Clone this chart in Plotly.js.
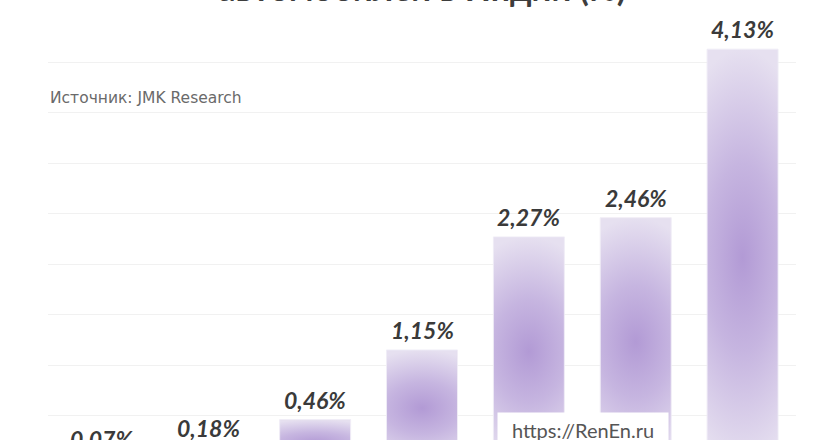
<!DOCTYPE html>
<html>
<head>
<meta charset="utf-8">
<script src="https://cdn.plot.ly/plotly-3.0.1.min.js"></script>
<style>
html,body{margin:0;padding:0;background:#fff;}
#wrap{width:840px;height:440px;overflow:hidden;position:relative;}
#chart{width:840px;height:520px;position:absolute;left:0;top:0;}
</style>
</head>
<body>
<div id="wrap"><div id="chart"></div></div>
<script>
// Data
const categories = ["2019", "2020", "2021", "2022", "2023", "2024", "2025"];
const shareValues = [0.07, 0.18, 0.46, 1.15, 2.27, 2.46, 4.13];
const shareLabels = shareValues.map(v => v.toFixed(2).replace('.', ',') + '%');
const titleText = "Доля электромобилей в продажах легковых<br>автомобилей в Индии (%)";
const sourceText = "Источник: JMK Research";
const watermarkText = "https://RenEn.ru";

const positions = categories.map((c, i) => i);

const trace = {
  type: 'bar',
  x: positions,
  y: shareValues,
  width: 0.664,
  marker: {color: '#c4b2df', line: {color: 'rgba(240,236,246,0.9)', width: 1}},
  hoverinfo: 'none',
  cliponaxis: false
};

const labelAnnotations = positions.map((p, i) => ({
  xref: 'x', yref: 'y', x: p, y: shareValues[i],
  text: shareLabels[i], showarrow: false,
  yanchor: 'bottom', yshift: 4,
  font: {family: 'Lato', size: 23, color: '#3a3a3a', weight: 700, style: 'italic'}
}));

const layout = {
  width: 840, height: 520,
  margin: {l: 48, r: 44, t: 32, b: 54},
  paper_bgcolor: '#ffffff', plot_bgcolor: '#ffffff',
  showlegend: false,
  xaxis: {type: 'linear', range: [-0.5, 6.5], tickvals: positions, ticktext: categories,
          showgrid: false, zeroline: false, showline: false,
          ticks: '', tickfont: {family: 'Lato', size: 14, color: '#555'}},
  yaxis: {range: [0, 4.3], dtick: 0.5, showgrid: true, gridcolor: '#f1f1f1', gridwidth: 1,
          zeroline: false, showticklabels: false, ticks: '', showline: false},
  annotations: labelAnnotations.concat([
    {xref: 'paper', yref: 'paper', x: 0.5, y: 1, xanchor: 'center', yanchor: 'bottom',
     yshift: 22, showarrow: false, text: titleText, align: 'center',
     font: {family: 'Lato', size: 34, color: '#3d3d3d', weight: 700}},
    {xref: 'paper', yref: 'paper', x: 0, y: 0.848, xanchor: 'left', yanchor: 'middle',
     showarrow: false, text: sourceText,
     font: {family: 'DejaVu Sans', size: 15.5, color: '#6a6a6a'}},
    {xref: 'paper', yref: 'paper', x: 0.715, y: 0.083, xanchor: 'center', yanchor: 'middle',
     showarrow: false, text: watermarkText, bgcolor: '#ffffff', borderpad: 6,
     width: 158, height: 22,
     font: {family: 'Lato', size: 20, color: '#555555'}}
  ])
};

Plotly.newPlot('chart', [trace], layout, {staticPlot: true, displayModeBar: false}).then(gd => {
  const svg = gd.querySelector('svg.main-svg');
  const ns = 'http://www.w3.org/2000/svg';
  let defs = svg.querySelector('defs');
  if (!defs) { defs = document.createElementNS(ns, 'defs'); svg.insertBefore(defs, svg.firstChild); }
  const g = document.createElementNS(ns, 'radialGradient');
  g.setAttribute('id', 'barGlow');
  g.setAttribute('cx', '0.5'); g.setAttribute('cy', '0.5'); g.setAttribute('r', '0.5');
  g.setAttribute('gradientTransform', 'translate(0.5,0.5) scale(2.3,1) translate(-0.5,-0.5)');
  [[0, '#b29ad5'], [0.45, '#c6b5e0'], [1, '#e6e0f0']].forEach(([o, c]) => {
    const s = document.createElementNS(ns, 'stop');
    s.setAttribute('offset', o); s.setAttribute('stop-color', c);
    g.appendChild(s);
  });
  defs.appendChild(g);
  gd.querySelectorAll('.bars .point path').forEach(p => { p.style.fill = 'url(#barGlow)'; });
});
</script>
</body>
</html>
